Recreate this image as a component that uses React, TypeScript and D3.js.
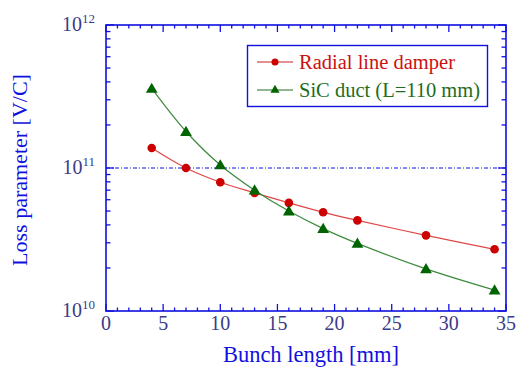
import { useEffect, useRef } from "react"
import * as d3 from "d3"

// bunch length [mm]
const bunchLength = [4, 7, 10, 13, 16, 19, 22, 28, 34]
// loss parameter [V/C]
const radialDamper = [1.38e11, 1.0e11, 7.95e10, 6.7e10, 5.7e10, 4.9e10, 4.3e10, 3.38e10, 2.7e10]
const sicDuct = [3.6e11, 1.8e11, 1.05e11, 7.0e10, 5.0e10, 3.77e10, 2.97e10, 1.97e10, 1.4e10]
const seriesNames = ["Radial line damper", "SiC duct (L=110 mm)"]
const xTicks = [0, 5, 10, 15, 20, 25, 30, 35]
const yDecades = [10, 11, 12]

const W = 516
const H = 369
const AXIS = "#1010e0"
const TICKLBL = "#3b3b88"
const FONT = "'Liberation Serif', 'DejaVu Serif', serif"

const App = () => {
  const svgRef = useRef<SVGSVGElement>(null)

  useEffect(() => {
    const svg = d3.select(svgRef.current)
    svg.selectAll("*").remove()

    const left = 106, right = 506, top = 25, bottom = 311

    const x = d3.scaleLinear().domain([0, 35]).range([left, right])
    const y = d3.scaleLog().domain([1e10, 1e12]).range([bottom, top])

    // dashed reference line at 1e11
    svg.append("line")
      .attr("x1", left).attr("x2", right)
      .attr("y1", y(1e11)).attr("y2", y(1e11))
      .attr("stroke", AXIS).attr("stroke-width", 1)
      .attr("stroke-dasharray", "4,2,1,2")

    // ticks
    const g = svg.append("g").attr("stroke", AXIS).attr("stroke-width", 1.3)
    d3.range(0, 36, 1).forEach((v) => {
      const len = v % 5 === 0 ? 7 : 3.5
      g.append("line").attr("x1", x(v)).attr("x2", x(v)).attr("y1", bottom).attr("y2", bottom - len)
      g.append("line").attr("x1", x(v)).attr("x2", x(v)).attr("y1", top).attr("y2", top + len)
    })
    const yMinor: number[] = []
    ;[1e10, 1e11].forEach((d) => {
      for (let k = 2; k <= 9; k++) yMinor.push(d * k)
    })
    yMinor.forEach((v) => {
      g.append("line").attr("x1", left).attr("x2", left + 4.5).attr("y1", y(v)).attr("y2", y(v))
      g.append("line").attr("x1", right).attr("x2", right - 4.5).attr("y1", y(v)).attr("y2", y(v))
    })
    yDecades.forEach((p) => {
      g.append("line").attr("x1", left).attr("x2", left + 8).attr("y1", y(10 ** p)).attr("y2", y(10 ** p))
      g.append("line").attr("x1", right).attr("x2", right - 8).attr("y1", y(10 ** p)).attr("y2", y(10 ** p))
    })

    // frame
    svg.append("rect")
      .attr("x", left).attr("y", top)
      .attr("width", right - left).attr("height", bottom - top)
      .attr("fill", "none").attr("stroke", AXIS).attr("stroke-width", 1.6)

    // x tick labels
    svg.append("g").selectAll("text").data(xTicks).enter().append("text")
      .attr("x", (d) => x(d)).attr("y", bottom + 19)
      .attr("text-anchor", "middle")
      .attr("font-family", FONT).attr("font-size", 20)
      .attr("fill", TICKLBL)
      .text((d) => d)

    // y tick labels 10^n
    yDecades.forEach((p) => {
      const t = svg.append("text")
        .attr("x", 95).attr("y", y(10 ** p) + 6)
        .attr("text-anchor", "end")
        .attr("font-family", FONT).attr("fill", TICKLBL)
      t.append("tspan").attr("font-size", 20).text("10")
      t.append("tspan").attr("font-size", 13).attr("dy", -8).text(p)
    })

    // axis titles
    svg.append("text")
      .attr("x", 311).attr("y", 362)
      .attr("text-anchor", "middle")
      .attr("font-family", FONT).attr("font-size", 22.5)
      .attr("fill", AXIS)
      .text("Bunch length [mm]")
    svg.append("text")
      .attr("transform", `translate(27,${(top + bottom) / 2 + 2}) rotate(-90)`)
      .attr("text-anchor", "middle")
      .attr("font-family", FONT).attr("font-size", 22)
      .attr("fill", AXIS)
      .text("Loss parameter [V/C]")

    const line = d3.line<number>()
      .x((_, i) => x(bunchLength[i]))
      .y((d) => y(d))
      .curve(d3.curveCatmullRom.alpha(0.5))

    const tri = d3.symbol().type(d3.symbolTriangle).size(60)
    const triSmall = d3.symbol().type(d3.symbolTriangle).size(36)

    // radial line damper
    svg.append("path").datum(radialDamper)
      .attr("d", line).attr("fill", "none")
      .attr("stroke", "#e04848").attr("stroke-width", 1.2)
    svg.append("g").selectAll("circle").data(radialDamper).enter().append("circle")
      .attr("cx", (_, i) => x(bunchLength[i])).attr("cy", (d) => y(d))
      .attr("r", 4.3).attr("fill", "#cc0000")

    // SiC duct
    svg.append("path").datum(sicDuct)
      .attr("d", line).attr("fill", "none")
      .attr("stroke", "#3d8a3d").attr("stroke-width", 1.2)
    svg.append("g").selectAll("path").data(sicDuct).enter().append("path")
      .attr("d", tri)
      .attr("transform", (d, i) => `translate(${x(bunchLength[i])},${y(d) + 1})`)
      .attr("fill", "#006400")

    // legend
    const lg = svg.append("g")
    lg.append("rect")
      .attr("x", 247.5).attr("y", 45.5).attr("width", 240).attr("height", 61)
      .attr("fill", "white").attr("stroke", AXIS).attr("stroke-width", 1.4)
    const rows = [
      { name: seriesNames[0], line: "#cc2222", mark: "#cc0000", text: "#cc1111", cy: 62 },
      { name: seriesNames[1], line: "#226e22", mark: "#006400", text: "#1e6e1e", cy: 90 },
    ]
    rows.forEach((r, i) => {
      lg.append("line").attr("x1", 257).attr("x2", 293).attr("y1", r.cy).attr("y2", r.cy)
        .attr("stroke", r.line).attr("stroke-width", 1.2)
      if (i === 0) {
        lg.append("circle").attr("cx", 275).attr("cy", r.cy).attr("r", 3.5).attr("fill", r.mark)
      } else {
        lg.append("path").attr("d", triSmall).attr("transform", `translate(275,${r.cy})`).attr("fill", r.mark)
      }
      lg.append("text").attr("x", 299).attr("y", r.cy + 6.5)
        .attr("font-family", FONT).attr("font-size", 20.5)
        .attr("fill", r.text).text(r.name)
    })
  }, [])

  return (
    <svg
      ref={svgRef}
      width={W}
      height={H}
      style={{ position: "fixed", left: 0, top: 0, background: "white" }}
    ></svg>
  )
}

export default App
